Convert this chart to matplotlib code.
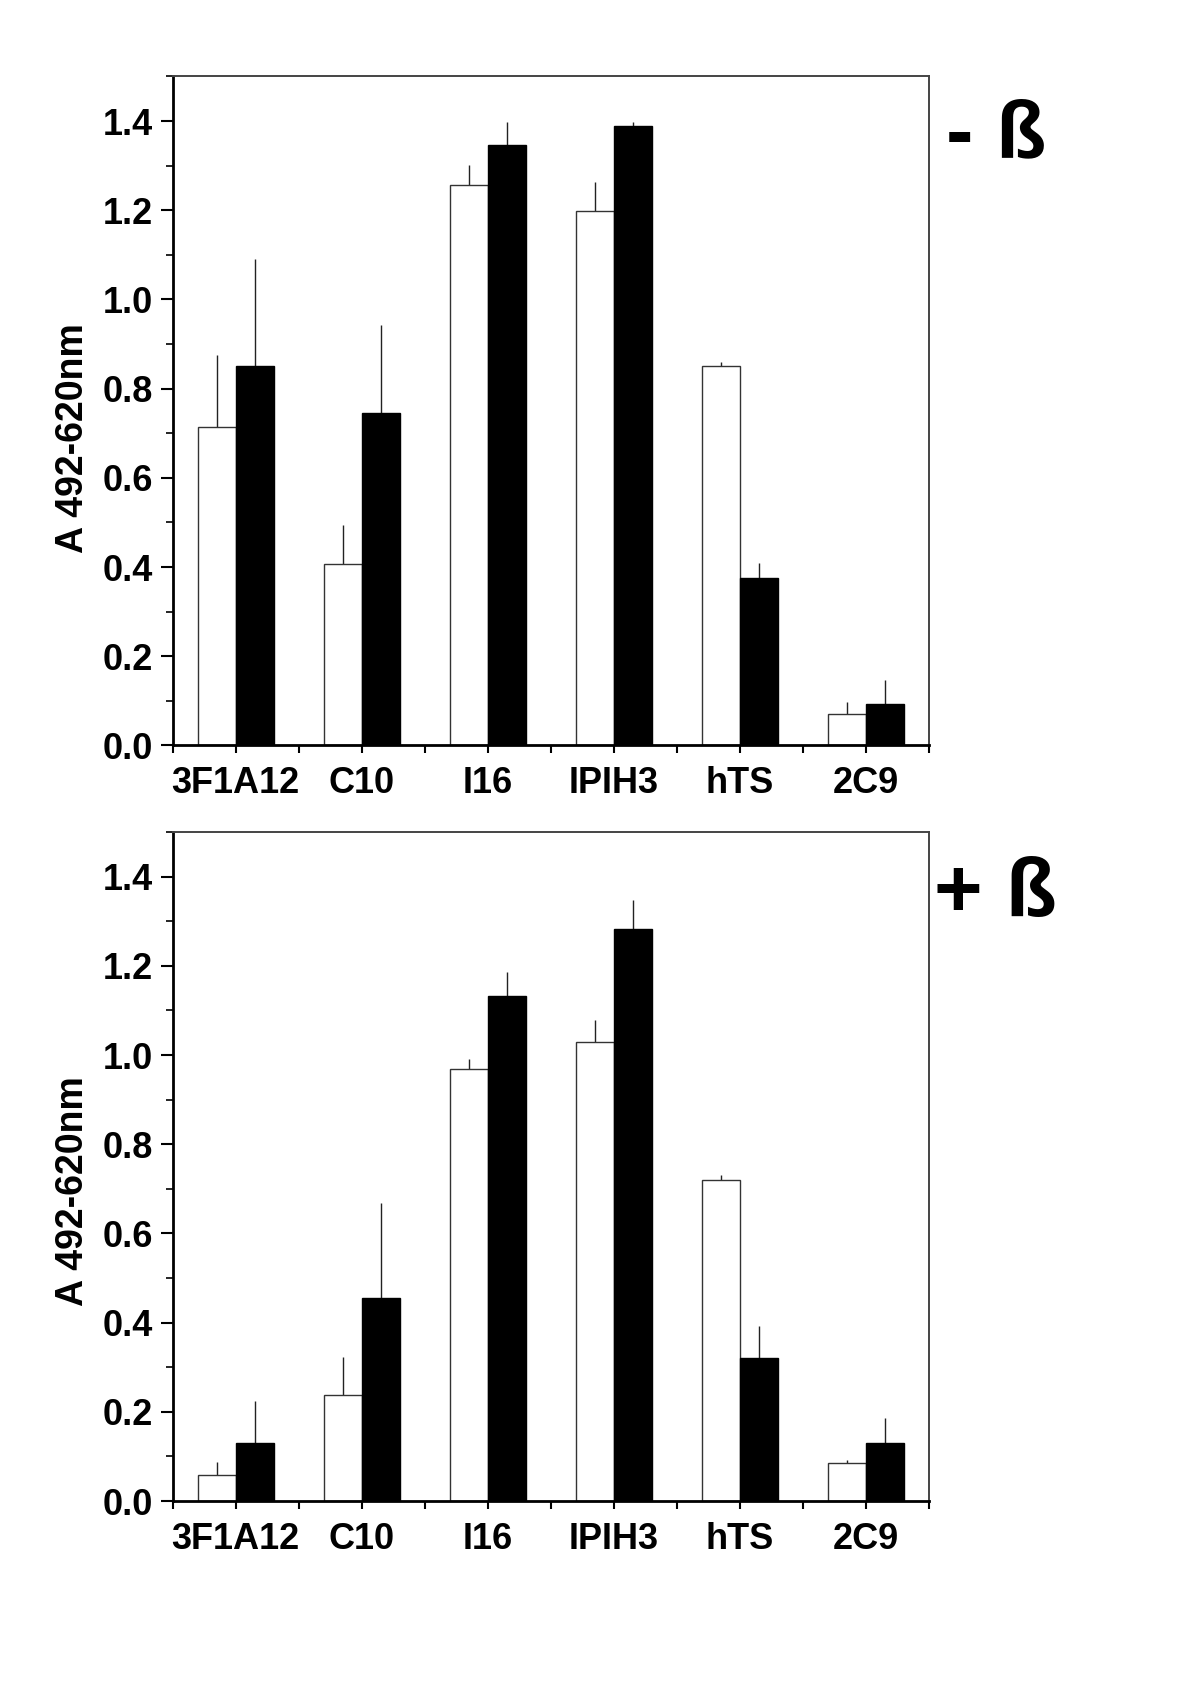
import matplotlib
matplotlib.use("Agg")
import matplotlib.pyplot as plt
import numpy as np
from matplotlib.ticker import MultipleLocator, FixedLocator

plt.rcParams['font.family'] = ['Liberation Sans', 'DejaVu Sans']
plt.rcParams['font.weight'] = 'bold'

categories = ["3F1A12", "C10", "I16", "IPIH3", "hTS", "2C9"]

# panel "- ß"
top_white = [0.715, 0.407, 1.257, 1.199, 0.850, 0.071]
top_white_err = [0.161, 0.087, 0.044, 0.064, 0.009, 0.026]
top_black = [0.851, 0.745, 1.347, 1.388, 0.375, 0.093]
top_black_err = [0.239, 0.197, 0.050, 0.009, 0.035, 0.053]

# panel "+ ß"
bot_white = [0.059, 0.238, 0.968, 1.030, 0.720, 0.085]
bot_white_err = [0.028, 0.085, 0.022, 0.049, 0.010, 0.006]
bot_black = [0.129, 0.456, 1.133, 1.283, 0.320, 0.130]
bot_black_err = [0.095, 0.213, 0.053, 0.064, 0.073, 0.057]

ylabel = "A 492-620nm"
panel_labels = ["- ß", "+ ß"]

fig = plt.figure(figsize=(12, 16.98), dpi=100)
ax1 = fig.add_axes([0.144, 0.561, 0.630, 0.394])
ax2 = fig.add_axes([0.144, 0.116, 0.630, 0.394])

x = np.arange(len(categories))
w = 0.3

def draw(ax, wv, we, bv, be, ylab_y):
    ax.bar(x - w/2, wv, width=w, color='white', edgecolor='#333333', linewidth=1.0, zorder=2)
    ax.bar(x + w/2, bv, width=w, color='black', edgecolor='black', linewidth=1.0, zorder=2)
    ax.errorbar(x - w/2, wv, yerr=[np.zeros(len(we)), we], fmt='none', ecolor='#222222',
                elinewidth=1.0, capsize=0, zorder=1)
    ax.errorbar(x + w/2, bv, yerr=[np.zeros(len(be)), be], fmt='none', ecolor='#222222',
                elinewidth=1.0, capsize=0, zorder=1)
    ax.set_xlim(-0.5, len(categories) - 0.5)
    ax.set_ylim(0, 1.5)
    ax.set_xticks(x)
    ax.set_xticklabels(categories, fontsize=26, fontweight='bold')
    ax.xaxis.set_minor_locator(FixedLocator(np.arange(-0.5, len(categories), 1.0)))
    ax.yaxis.set_major_locator(FixedLocator(np.arange(0, 1.41, 0.2)))
    ax.yaxis.set_minor_locator(MultipleLocator(0.1))
    ax.set_yticklabels([f"{v:.1f}" for v in np.arange(0, 1.41, 0.2)], fontsize=26, fontweight='bold')
    ax.tick_params(axis='x', which='both', direction='out', length=6, width=1.5, pad=9)
    ax.tick_params(axis='y', which='major', direction='out', length=9, width=1.5, pad=5)
    ax.tick_params(axis='y', which='minor', direction='out', length=5, width=1.2)
    for s in ['left', 'bottom']:
        ax.spines[s].set_linewidth(2.0)
        ax.spines[s].set_color('black')
    for s in ['top', 'right']:
        ax.spines[s].set_linewidth(1.4)
        ax.spines[s].set_color('#444444')
    ax.set_ylabel(ylabel, fontsize=27, fontweight='bold')
    ax.yaxis.set_label_coords(-0.108, ylab_y)

draw(ax1, top_white, top_white_err, top_black, top_black_err, 0.46)
draw(ax2, bot_white, bot_white_err, bot_black, bot_black_err, 0.463)

fig.text(946/1200, 1 - 157/1698, panel_labels[0], fontsize=59, fontweight='bold',
         ha='left', va='baseline')
fig.text(934/1200, 1 - 917/1698, panel_labels[1], fontsize=60, fontweight='bold',
         ha='left', va='baseline')

fig.savefig("out.png", dpi=100)
